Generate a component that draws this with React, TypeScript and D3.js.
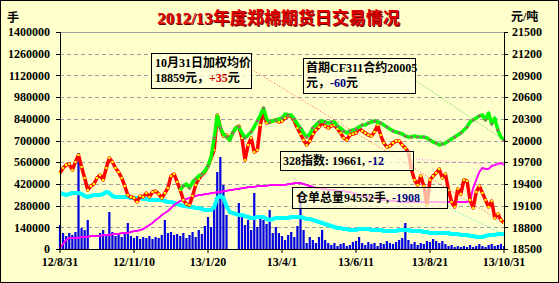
import React from 'react';
import * as d3 from 'd3';

const xLabels = ['12/8/31', '12/11/10', '13/1/20', '13/4/1', '13/6/11', '13/8/21', '13/10/31'];
const leftTicks = [0, 140000, 280000, 420000, 560000, 700000, 840000, 980000, 1120000, 1260000, 1400000];
const rightTicks = [18500, 18800, 19100, 19400, 19700, 20000, 20300, 20600, 20900, 21200, 21500];

// 加权均价 (right axis)
const avgPrice = [
  19551, 19620, 19661, 19675, 19592, 19703, 19800, 19634, 19482, 19316,
  19371, 19399, 19482, 19523, 19454, 19620, 19758, 19703, 19620, 19565,
  19482, 19371, 19247, 19219, 19205, 19150, 19233, 19219, 19274, 19219,
  19288, 19302, 19260, 19205, 19274, 19343, 19509, 19537, 19426, 19316,
  19177, 19122, 19108, 19233, 19385, 19468, 19523, 19565, 19647, 19758,
  19869, 20353, 20173, 20062, 20076, 20007, 20104, 20173, 20200, 20035,
  19730, 19938, 20035, 19841, 19869, 20214, 20422, 20242, 20256, 20270,
  20283, 20256, 20270, 20311, 20339, 20339, 20270, 20173, 20090, 20007,
  19938, 19993, 20090, 20145, 20187, 20256, 20200, 20173, 20200, 20214,
  20159, 20104, 20035, 20007, 20076, 20090, 20104, 20173, 20131, 20104,
  20076, 20062, 20117, 20214, 20076, 19965, 19910, 19924, 19965, 19993,
  19993, 19938, 19896, 19841, 19592, 19454, 19385, 19509, 19371, 19108,
  19454, 19509, 19551, 19606, 19482, 19537, 19316, 19150, 19081, 19330,
  19260, 19454, 19440, 19177, 19067, 19288, 19371, 19274, 19177, 19081,
  19164, 18929, 18984, 18901, 18859,
];

// 首期CF311 (right axis), starts at index 39
const cf311Start = 39;
const cf311Values = [
  19316, 19371, 19399, 19343, 19426, 19468, 19509, 19537, 19578, 19647, 19772,
  20035, 20339, 20173, 20090, 20048, 20007, 20104, 20173, 20187, 20104,
  20035, 20076, 20118, 20187, 20270, 20353, 20449, 20297, 20256, 20270,
  20283, 20297, 20311, 20366, 20353, 20353, 20297, 20228, 20173, 20104,
  20048, 20090, 20173, 20214, 20256, 20270, 20256, 20242, 20256, 20256,
  20200, 20173, 20131, 20104, 20131, 20145, 20159, 20187, 20214, 20214,
  20242, 20256, 20270, 20256, 20242, 20214, 20187, 20159, 20131, 20118,
  20104, 20090, 20062, 20048, 20048, 20062, 20048, 20048, 20048, 20035,
  20007, 19979, 19965, 19938, 19951, 19965, 19993, 20021, 20048, 20076,
  20104, 20145, 20187, 20256, 20283, 20311, 20339, 20353, 20283, 20380,
  20228, 20311, 20145, 20048, 20005,
];

// 328指数 (right axis)
const index328 = [
  18514, 18569, 18624, 18652, 18652, 18652, 18652, 18666, 18666, 18666,
  18680, 18680, 18680, 18680, 18694, 18694, 18694, 18707, 18707, 18707,
  18721, 18721, 18721, 18735, 18749, 18749, 18763, 18777, 18804, 18832,
  18859, 18901, 18929, 18970, 18998, 19025, 19067, 19108, 19136, 19164,
  19177, 19191, 19205, 19219, 19233, 19247, 19247, 19260, 19260, 19274,
  19274, 19288, 19288, 19302, 19302, 19316, 19316, 19330, 19330, 19343,
  19343, 19357, 19357, 19357, 19371, 19371, 19371, 19371, 19385, 19385,
  19385, 19385, 19385, 19385, 19399, 19399, 19412, 19412, 19412, 19399,
  19385, 19371, 19357, 19343, 19343, 19330, 19330, 19316, 19316, 19316,
  19302, 19302, 19302, 19288, 19288, 19274, 19260, 19247, 19233, 19233,
  19219, 19205, 19205, 19191, 19177, 19177, 19177, 19164, 19164, 19164,
  19150, 19150, 19150, 19150, 19150, 19150, 19150, 19150, 19150, 19150,
  19150, 19150, 19150, 19150, 19150, 19150, 19150, 19150, 19150, 19150,
  19150, 19150, 19150, 19164, 19343, 19454, 19565, 19620, 19606, 19606,
  19647, 19661, 19675, 19689, 19661,
];

// 仓单总量 (left axis)
const receipts = [
  361300, 354800, 348400, 354800, 361300, 361300, 361300, 354800, 341900, 335500,
  341900, 348400, 348400, 348400, 354800, 367700, 361300, 341900, 335500, 335500,
  335500, 335500, 335500, 329000, 329000, 329000, 329000, 322600, 322600, 316100,
  316100, 316100, 316100, 316100, 309700, 303200, 303200, 296800, 290300, 283900,
  277400, 277400, 271000, 271000, 264500, 264500, 258100, 251600, 251600, 251600,
  271000, 329000, 341900, 329000, 277400, 238700, 232300, 225800, 219400, 219400,
  212900, 206500, 200000, 200000, 206500, 206500, 206500, 193500, 187100, 193500,
  200000, 200000, 200000, 200000, 200000, 206500, 206500, 206500, 206500, 200000,
  193500, 193500, 187100, 180600, 174200, 167700, 161300, 154800, 148400, 141900,
  135500, 135500, 129000, 129000, 122600, 122600, 122600, 129000, 129000, 129000,
  129000, 122600, 122600, 122600, 122600, 116100, 116100, 116100, 116100, 116100,
  122600, 122600, 122600, 122600, 116100, 116100, 116100, 116100, 109700, 109700,
  103200, 103200, 103200, 103200, 103200, 103200, 103200, 96800, 96800, 96800,
  90300, 90300, 90300, 83900, 83900, 77400, 77400, 77400, 83900, 90300,
  90300, 90300, 96800, 96800, 94552,
];

// 成交量 (left axis)
const volume = [
  154800, 103200, 83900, 103200, 90300, 109700, 619400, 135500, 122600, 187100,
  0, 0, 0, 103200, 122600, 90300, 238700, 109700, 83900, 96800,
  77400, 103200, 167700, 83900, 71000, 83900, 64500, 77400, 71000, 83900,
  64500, 77400, 71000, 90300, 187100, 103200, 109700, 90300, 96800, 83900,
  103200, 71000, 90300, 109700, 77400, 122600, 96800, 148400, 206500, 141900,
  283900, 496800, 593600, 412900, 219400, 0, 0, 0, 296800, 219400,
  154800, 187100, 122600, 361300, 141900, 219400, 187100, 161300, 251600, 103200,
  141900, 103200, 83900, 58100, 90300, 109700, 77400, 148400, 342000, 122600,
  38700, 77400, 58100, 38700, 77400, 122600, 58100, 38700, 25800, 38700,
  19400, 32300, 38700, 19400, 25800, 45200, 51600, 77400, 38700, 25800,
  45200, 32300, 38700, 19400, 38700, 32300, 51600, 38700, 32300, 45200,
  58100, 71000, 167700, 58100, 32300, 45200, 25800, 38700, 32300, 51600,
  45200, 64500, 51600, 38700, 51600, 32300, 19400, 25800, 12900, 19400,
  12900, 19400, 12900, 25800, 12900, 19400, 32300, 19400, 12900, 25800,
  32300, 19400, 25800, 32300, 19400,
];

const W = 559;
const H = 283;
const L = 60, R = 504, T = 32, B = 249;
const FONT = "'Liberation Serif', 'Noto Sans CJK SC', serif";

export default function App() {
  const N = avgPrice.length;
  const x = d3.scaleLinear().domain([0, N - 1]).range([L, R]);
  const yL = d3.scaleLinear().domain([0, 1400000]).range([B, T]);
  const yR = d3.scaleLinear().domain([18500, 21500]).range([B, T]);
  const cf311: (number | null)[] = avgPrice.map((_, i) =>
    i >= cf311Start ? cf311Values[i - cf311Start] : null
  );

  const lineR = d3.line<number>().x((_, i) => x(i)).y(d => yR(d));
  const lineG = d3
    .line<number | null>()
    .defined(d => d != null)
    .x((_, i) => x(i))
    .y(d => yR(d as number));
  const lineLeft = d3.line<number>().x((_, i) => x(i)).y(d => yL(d));

  const labelStep = (N - 1) / (xLabels.length - 1);
  const last = N - 1;

  return (
    <svg width={W} height={H} style={{ position: 'absolute', left: 0, top: 0 }} fontFamily={FONT}>
      <rect x={0.5} y={0.5} width={W - 1} height={H - 1} fill="#FFFFCC" stroke="#000" />
      {/* grid */}
      {leftTicks.map((t, i) =>
        i === 0 ? null : (
          <line
            key={'g' + t}
            x1={L}
            x2={R}
            y1={Math.round(yL(t)) + 0.5}
            y2={Math.round(yL(t)) + 0.5}
            stroke="#A0A0A0"
            strokeDasharray={i === leftTicks.length - 1 ? undefined : '4,3'}
          />
        )
      )}
      {/* volume bars */}
      {volume.map((v, i) =>
        v > 0 ? (
          <rect key={'b' + i} x={x(i) - 1.1} y={yL(v)} width={2.2} height={B - yL(v)} fill="#0000E0" />
        ) : null
      )}
      {/* receipts */}
      <path d={lineLeft(receipts) || ''} fill="none" stroke="#00FFFF" strokeWidth={4} strokeLinejoin="round" />
      {/* 328 index */}
      <path d={lineR(index328) || ''} fill="none" stroke="#FF00FF" strokeWidth={2} />
      {/* avg price */}
      <path d={lineR(avgPrice) || ''} fill="none" stroke="#FF0000" strokeWidth={3.5} strokeLinejoin="round" />
      {avgPrice.map((p, i) => (
        <circle key={'ry' + i} cx={x(i)} cy={yR(p)} r={1.3} fill="#FFFF00" />
      ))}
      {/* CF311 */}
      <path d={lineG(cf311) || ''} fill="none" stroke="#00FF00" strokeWidth={3.5} strokeLinejoin="round" />
      {cf311.map((p, i) =>
        p == null || i % 2 === 1 ? null : (
          <circle key={'gd' + i} cx={x(i)} cy={yR(p)} r={1.5} fill="#9C6B6B" />
        )
      )}

      {/* axes */}
      <line x1={L + 0.5} x2={L + 0.5} y1={T} y2={B} stroke="#000" />
      <line x1={R + 0.5} x2={R + 0.5} y1={T} y2={B} stroke="#000" />
      <line x1={L} x2={R + 1} y1={B + 0.5} y2={B + 0.5} stroke="#000" />
      {leftTicks.map(t => (
        <g key={'lt' + t}>
          <line x1={L - 4} x2={L} y1={Math.round(yL(t)) + 0.5} y2={Math.round(yL(t)) + 0.5} stroke="#000" />
          <text x={50} y={yL(t)} dy="0.35em" textAnchor="end" fontSize={12} fontWeight="bold">
            {t}
          </text>
        </g>
      ))}
      {rightTicks.map(t => (
        <g key={'rt' + t}>
          <line x1={R} x2={R + 4} y1={Math.round(yR(t)) + 0.5} y2={Math.round(yR(t)) + 0.5} stroke="#000" />
          <text x={512} y={yR(t)} dy="0.35em" textAnchor="start" fontSize={12} fontWeight="bold">
            {t}
          </text>
        </g>
      ))}
      {xLabels.map((lab, k) => (
        <g key={'xl' + lab}>
          <line x1={x(k * labelStep)} x2={x(k * labelStep)} y1={B} y2={B + 4} stroke="#000" />
          <text x={x(k * labelStep)} y={266} textAnchor="middle" fontSize={12} fontWeight="bold">
            {lab}
          </text>
        </g>
      ))}

      {/* title & units */}
      <text x={279.5} y={25} textAnchor="middle" fontSize={17} fontWeight="bold" fill="#700000">
        2012/13年度郑棉期货日交易情况
      </text>
      <text x={278.5} y={24} textAnchor="middle" fontSize={17} fontWeight="bold" fill="#E00000">
        2012/13年度郑棉期货日交易情况
      </text>
      <text x={7} y={22} fontSize={12} fontWeight="bold">手</text>
      <text x={511} y={21} fontSize={12} fontWeight="bold">元/吨</text>

      {/* leader lines */}
      <line x1={251} y1={69} x2={x(last)} y2={yR(avgPrice[last])} stroke="#FF5050" strokeDasharray="1,2" />
      <line x1={415} y1={80} x2={x(last)} y2={yR(cf311Values[cf311Values.length - 1])} stroke="#33CC33" strokeDasharray="1,2" />
      <line x1={413} y1={159} x2={x(last)} y2={yR(index328[last])} stroke="#FF88FF" strokeDasharray="1,2" />
      <line x1={447} y1={207} x2={x(last)} y2={yL(receipts[last])} stroke="#40E0E0" strokeDasharray="1,2" />

      {/* label boxes */}
      <rect x={151.5} y={53.5} width={100} height={35} fill="#FFFFDD" fillOpacity={0.8} stroke="#000" />
      <text x={155} y={67} fontSize={12} fontWeight="bold">10月31日加权均价</text>
      <text x={155} y={82} fontSize={12} fontWeight="bold">
        18859元，<tspan fill="#CC0000">+35</tspan>元
      </text>

      <rect x={303.5} y={58.5} width={112} height={35} fill="#FFFFDD" fillOpacity={0.8} stroke="#000" />
      <text x={306} y={72} fontSize={12} fontWeight="bold">首期CF311合约20005</text>
      <text x={306} y={87} fontSize={12} fontWeight="bold">
        元，<tspan fill="#000080">-60</tspan>元
      </text>

      <rect x={280.5} y={151.5} width={133} height={19} fill="#FFFFDD" fillOpacity={0.7} stroke="#000" />
      <text x={283} y={165} fontSize={12} fontWeight="bold">
        328指数: 19661, <tspan fill="#000080">-12</tspan>
      </text>

      <rect x={292.5} y={187.5} width={155} height={21} fill="#FFFFDD" fillOpacity={0.7} stroke="#000" />
      <text x={296} y={202} fontSize={12} fontWeight="bold">
        仓单总量94552手, <tspan fill="#000080">-1908</tspan>
      </text>
    </svg>
  );
}
